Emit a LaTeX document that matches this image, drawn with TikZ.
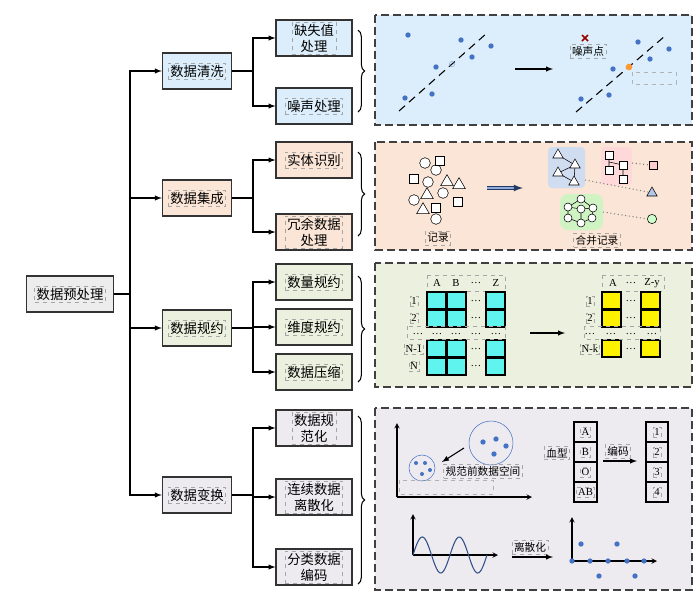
\documentclass[tikz,border=0pt]{standalone}
\usepackage{fontspec}
\setmainfont{Liberation Serif}
\newfontfamily\cjk{Noto Sans CJK SC}
\usetikzlibrary{positioning}
\usetikzlibrary{arrows}
\usetikzlibrary{shapes.geometric}
\usetikzlibrary{decorations.pathreplacing}
\definecolor{qxblue}{HTML}{DCEEFB}
\definecolor{jcorange}{HTML}{FBE5D6}
\definecolor{gygreen}{HTML}{EBF1DE}
\definecolor{bhgray}{HTML}{EEEBF0}
\definecolor{rootgray}{HTML}{EDEDED}
\definecolor{dotblue}{HTML}{4472C4}
\definecolor{cellcyan}{HTML}{5FF5EE}
\tikzset{
        box/.style={draw=black!80,thick,minimum width=57pt,minimum height=27pt,inner sep=1pt,font=\cjk},
        tag/.style={draw=gray!70,dashed,inner sep=1.5pt,font=\cjk\footnotesize,align=center},
        panel/.style={draw=black!75,dash pattern=on 6pt off 3pt,thick},
        arr/.style={-latex,thick},
        dot/.style={circle,fill=dotblue,inner sep=0pt,minimum size=4pt},
        crc/.style={circle,draw,fill=white,inner sep=0pt,minimum size=8pt},
        sq/.style={draw,fill=white,inner sep=0pt,minimum size=7pt},
        tri/.style={regular polygon,regular polygon sides=3,draw,fill=white,inner sep=0pt,minimum size=11pt},
        lbl/.style={font=\footnotesize,inner sep=1pt},
        brc/.style={decorate,decoration={brace,amplitude=5pt},thick},
        }

\begin{document}
\begin{tikzpicture}[x=0.75pt,y=-0.75pt]
		\useasboundingbox (0,0) rectangle (700,612);

		%tree nodes.....................
		\node [box,fill=rootgray,minimum width=65pt] (root) at (70,294) {};
		\node [tag,font=\cjk] at (root) {数据预处理};

		\node [box,fill=qxblue,minimum width=52pt] (qx) at (197,71) {};
		\node [tag,font=\cjk] at (qx) {数据清洗};
		\node [box,fill=jcorange,minimum width=52pt] (jc) at (197,198) {};
		\node [tag,font=\cjk] at (jc) {数据集成};
		\node [box,fill=gygreen,minimum width=52pt] (gy) at (197,328) {};
		\node [tag,font=\cjk] at (gy) {数据规约};
		\node [box,fill=bhgray,minimum width=52pt] (bh) at (197,495) {};
		\node [tag,font=\cjk] at (bh) {数据变换};

		\node [box,fill=qxblue] (qs) at (314,38) {};
		\node [tag,font=\cjk,align=center] at (qs) {缺失值\\处理};
		\node [box,fill=qxblue] (zs) at (314,106) {};
		\node [tag,font=\cjk] at (zs) {噪声处理};
		\node [box,fill=jcorange] (st) at (314,160) {};
		\node [tag,font=\cjk] at (st) {实体识别};
		\node [box,fill=jcorange] (ry) at (314,232) {};
		\node [tag,font=\cjk] at (ry) {冗余数据\\处理};
		\node [box,fill=gygreen] (sl) at (314,282) {};
		\node [tag,font=\cjk] at (sl) {数量规约};
		\node [box,fill=gygreen] (wd) at (314,327) {};
		\node [tag,font=\cjk] at (wd) {维度规约};
		\node [box,fill=gygreen] (ys) at (314,372) {};
		\node [tag,font=\cjk] at (ys) {数据压缩};
		\node [box,fill=bhgray] (gf) at (314,428) {};
		\node [tag,font=\cjk] at (gf) {数据规\\范化};
		\node [box,fill=bhgray] (ls) at (314,497) {};
		\node [tag,font=\cjk] at (ls) {连续数据\\离散化};
		\node [box,fill=bhgray] (fl) at (314,567) {};
		\node [tag,font=\cjk] at (fl) {分类数据\\编码};

		%tree connectors......................
		\coordinate (trunk) at (130,0);
		\coordinate (branch) at (253,0);
		\foreach \n in {qx,jc,gy,bh}
			\draw [arr] (root.east) -- (root.east -| trunk) |- (\n.west);
		\foreach \p/\n in {qx/qs,qx/zs,jc/st,jc/ry,gy/sl,gy/wd,gy/ys,bh/gf,bh/ls,bh/fl}
			\draw [arr] (\p.east) -- (\p.east -| branch) |- (\n.west);

		% braces....................
		\draw [brc] (358,30) -- (358,112);
		\draw [brc] (358,152) -- (358,236);
		\draw [brc] (358,276) -- (358,382);
		\draw [brc] (358,416) -- (358,584);

		% panels....................
		\draw [panel,fill=qxblue] (375,15) rectangle (692,125);
		\draw [panel,fill=jcorange] (375,142) rectangle (692,250);
		\draw [panel,fill=gygreen] (375,263) rectangle (692,387);
		\draw [panel,fill=bhgray] (375,408) rectangle (692,590);

		% panel 1: noise..............................
		\draw [thick,dash pattern=on 6pt off 4pt] (399,111) -- (487,33);
		\foreach \x/\y in {408/35,461/40,491/46,472/57,436/67,405/98,432/94}
			\node [dot] at (\x,\y) {};
		\node [circle,draw=dotblue!60,inner sep=0pt,minimum size=4pt] at (452,64) {};
		\draw [arr] (515,69) -- (553,69);
		\draw [thick,dash pattern=on 6pt off 4pt] (576,112) -- (665,36);
		\foreach \x/\y in {638/42,669/49,650/59,613/69,609/95,581/99}
			\node [dot] at (\x,\y) {};
		\node [dot,fill=orange!80,minimum size=5pt] at (629,67) {};
		\draw [very thick,red!60!black] (582,35) -- (588,41) (588,35) -- (582,41);
		\node [tag] at (588,51) {噪声点};
		\draw [gray!60,dashed] (632,72) rectangle (676,84);

		% panel 2: entities..............................
		\foreach \x/\y in {425/163,436/170,428/182,443/193,414/200,436/219}
			\node [crc] at (\x,\y) {};
		\foreach \x/\y in {440/161,414/179,458/202,436/208}
			\node [sq] at (\x,\y) {};
		\foreach \x/\y in {447/182,459/185,427/195,423/210}
			\node [tri] at (\x,\y) {};
		\node [tag] at (438,238) {记录};
		\draw [double=dotblue!60,double distance=2pt,-latex,thick,draw=dotblue!50!black] (487,188) -- (523,188);
		\fill [dotblue!25,rounded corners=3pt] (548,147) rectangle (585,188);
		\fill [red!15,rounded corners=3pt] (601,147) rectangle (632,185);
		\fill [green!12!gygreen,rounded corners=6pt] (560,194) rectangle (603,230);
		\draw (558,155) -- (575,165) -- (558,173) -- (574,182) (575,165) -- (574,182);
		\foreach \x/\y in {558/155,575/165,558/173,574/182}
			\node [tri,minimum size=9pt] at (\x,\y) {};
		\draw (609,155) -- (609,170) (609,162) -- (623,165) -- (623,179);
		\foreach \x/\y in {609/155,609/170,623/165,623/179}
			\node [sq,minimum size=6pt] at (\x,\y) {};
		\draw (581,199) -- (568,207) -- (568,218) -- (581,223) -- (592,218) -- (593,208) -- (581,199) (568,207) -- (581,209) -- (593,208) (581,209) -- (581,223);
		\foreach \x/\y in {581/199,568/207,568/218,581/209,593/208,581/223,592/218}
			\node [crc,minimum size=6pt] at (\x,\y) {};
		\draw [gray,dotted,thick] (632,163) -- (650,165);
		\draw [gray,dotted,thick] (585,180) -- (648,192);
		\draw [gray,dotted,thick] (603,212) -- (648,219);
		\node [sq,fill=red!20,minimum size=6pt] at (653,165) {};
		\node [tri,fill=dotblue!40,minimum size=9pt] at (652,193) {};
		\node [crc,fill=green!20,minimum size=7pt] at (652,219) {};
		\node [tag] at (597,240) {合并记录};

		% panel 3: reduction..............................
		\draw [gray!70,dashed] (427,275) rectangle (505,291);
		\foreach \t/\x in {A/437,B/456,\dots/476,Z/496}
			\node [lbl] at (\x,283) {\t};
		\foreach \t/\y in {1/301,2/318,N-1/349,N/366}
			\node [lbl,draw=gray!70,dashed] at (414,\y) {\t};
		\foreach \x in {427,447,486}
			\foreach \y in {292,310,340,358}
				\draw [thick,fill=cellcyan] (\x,\y) rectangle ++(19,17);
		\foreach \x in {418,437,456,476,496}
			\node [lbl] at (\x,334) {\dots};
		\draw [gray!70,dashed] (407,326) rectangle (505,339);
		\foreach \y in {301,318,349,366}
			\node [lbl] at (476,\y) {\dots};
		\draw [arr] (530,333) -- (565,333);
		\draw [gray!70,dashed] (602,275) rectangle (664,291);
		\foreach \t/\x in {A/613,\dots/631,Z-y/652}
			\node [lbl] at (\x,283) {\t};
		\foreach \t/\y in {1/301,2/318,N-k/349}
			\node [lbl,draw=gray!70,dashed] at (590,\y) {\t};
		\foreach \x in {602,641}
			\foreach \y in {292,310,340}
				\draw [thick,fill=yellow] (\x,\y) rectangle ++(19,17);
		\foreach \x in {590,611,631,652}
			\node [lbl] at (\x,334) {\dots};
		\draw [gray!70,dashed] (584,326) rectangle (660,339);
		\foreach \y in {301,318,349}
			\node [lbl] at (631,\y) {\dots};

		% panel 4: normalization..............................
		\draw [arr,-stealth] (397,497) -- (397,423);
		\draw [arr,-stealth] (397,497) -- (532,497);
		\draw [dotblue] (491,443) circle (22);
		\draw [dotblue] (422,468) circle (13);
		\foreach \x/\y in {483/442,496/439,506/446,494/454}
			\node [dot] at (\x,\y) {};
		\foreach \x/\y in {416/463,425/463,430/470,422/474}
			\node [dot,minimum size=3pt] at (\x,\y) {};
		\draw [arr] (464,448) -- (442,462);
		\node [tag] at (483,471) {规范前数据空间};
		\draw [gray!60,dashed] (399,480) rectangle (493,494);

		% panel 4: encoding..............................
		\node [tag] at (557,453) {血型};
		\foreach \t/\y in {A/432,B/452,O/472,AB/492}
			{\draw [thick] (574,\y-10) rectangle (597,\y+10);
			 \node [lbl,draw=gray!70,dashed] at (585.5,\y) {\t};}
		\draw [arr] (603,461) -- (637,461);
		\node [tag] at (618,451) {编码};
		\foreach \t/\y in {1/432,2/452,3/472,4/492}
			{\draw [thick] (646,\y-10) rectangle (668,\y+10);
			 \node [lbl,draw=gray!70,dashed] at (657,\y) {\t};}

		% panel 4: discretization..............................
		\draw [arr,-stealth] (413,555) -- (413,514);
		\draw [arr,-stealth] (413,555) -- (498,555);
		\draw [thick,dotblue!70!black,domain=0:74,samples=80] plot ({413+\x},{555-18*sin(\x*9.73)});
		\node [tag] at (530,547) {离散化};
		\draw [arr] (512,557) -- (553,557);
		\draw [arr,-stealth] (572,561) -- (572,517);
		\draw [arr,-stealth] (572,561) -- (657,561);
		\foreach \x/\y in {581/544,617/544,572/561,590/561,608/561,627/561,644/561,599/576,635/576}
			\node [dot] at (\x,\y) {};

	\end{tikzpicture}
\end{document}
